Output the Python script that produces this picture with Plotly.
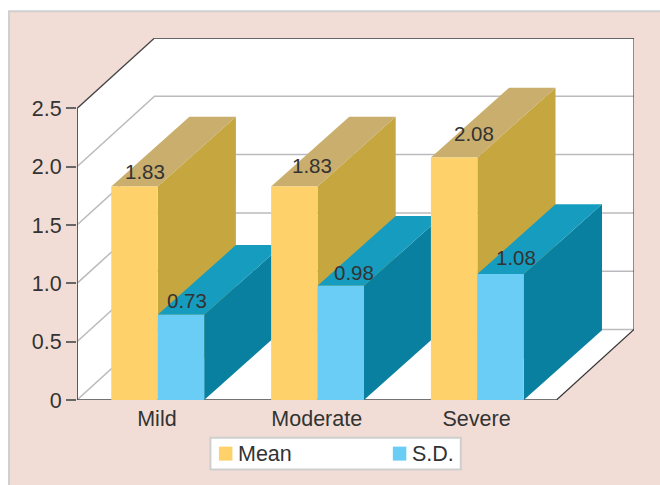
import plotly.graph_objects as go

# Severity groups and their summary statistics
categories = ["Mild", "Moderate", "Severe"]
mean_values = [1.83, 1.83, 2.08]
sd_values = [0.73, 0.98, 1.08]
y_ticks = [0, 0.5, 1.0, 1.5, 2.0, 2.5]
y_tick_labels = ["0", "0.5", "1.0", "1.5", "2.0", "2.5"]
legend_labels = ["Mean", "S.D."]

# Per-label nudges in pixels, relative to each bar's top centre
mean_label_shift = [(11, 15), (18, 21), (21, 24)]
sd_label_shift = [(7, 14), (14, 13), (16, 17)]

W, H = 660, 485
LEFT, RIGHT, TOP, BOTTOM = 77.0, 634.3, 37.7, 400.3
DEPTH_X = 0.485     # oblique depth of the box, in category units
DEPTH_Y = 0.604     # oblique depth of the box, in value units
SOLID_DX = 0.489    # oblique depth of the bars
SOLID_DY = 0.598
BAR = 0.2906
BAR_NUDGE = 0.005   # bars sit a hair right of the category centre
X_MIN, X_FRONT = -0.5, 2.5
Y_FRONT = y_ticks[-1]

PANEL = "#F1DDD5"
FRAME = "#CFCFCF"
GRID = "#BBBBBF"
INK = "#333333"
FONT = "Liberation Sans"
MEAN_FACES = dict(front="#FED16A", side="#C5A63F", top="#C9AE6E")
SD_FACES = dict(front="#69CDF6", side="#0A80A0", top="#169CBE")


def px_x(px):
    """Page pixel column to paper coordinate of the plot area."""
    return (px - LEFT) / (RIGHT - LEFT)


def px_y(py):
    """Page pixel row to paper coordinate of the plot area."""
    return (BOTTOM - py) / (BOTTOM - TOP)


fig = go.Figure()


def polygon(xs, ys, color):
    fig.add_trace(go.Scatter(
        x=xs + xs[:1], y=ys + ys[:1], mode="lines", fill="toself",
        fillcolor=color, line=dict(width=0, color=color),
        hoverinfo="skip", showlegend=False, xaxis="x", yaxis="y"))


def line(xs, ys, color, width):
    fig.add_trace(go.Scatter(
        x=xs, y=ys, mode="lines", line=dict(color=color, width=width),
        hoverinfo="skip", showlegend=False, xaxis="x", yaxis="y"))


# White walls and floor of the box
polygon([X_MIN, X_MIN, X_MIN + DEPTH_X, X_FRONT + DEPTH_X, X_FRONT + DEPTH_X, X_FRONT],
        [0, Y_FRONT, Y_FRONT + DEPTH_Y, Y_FRONT + DEPTH_Y, DEPTH_Y, 0], "#FFFFFF")

# Gridlines running along the left wall and the back wall
for tick in y_ticks[:-1]:
    line([X_MIN, X_MIN + DEPTH_X, X_FRONT + DEPTH_X],
         [tick, tick + DEPTH_Y, tick + DEPTH_Y], GRID, 1.5)

# Outline of the box
line([X_MIN, X_MIN], [0, Y_FRONT], "#5A5A5A", 2)
line([X_MIN, X_MIN + DEPTH_X], [Y_FRONT, Y_FRONT + DEPTH_Y], "#444444", 1.3)
line([X_MIN + DEPTH_X, X_FRONT + DEPTH_X], [Y_FRONT + DEPTH_Y] * 2, "#666666", 2)
line([X_FRONT + DEPTH_X] * 2, [Y_FRONT + DEPTH_Y, DEPTH_Y], "#444444", 1.2)
line([X_FRONT, X_FRONT + DEPTH_X], [0, DEPTH_Y], "#333333", 1.2)
line([X_MIN, X_FRONT], [0, 0], "#444444", 1.5)


def solid_faces(left, right, value, faces):
    polygon([right, right + SOLID_DX, right + SOLID_DX, right],
            [0, SOLID_DY, value + SOLID_DY, value], faces["side"])
    polygon([left, right, right + SOLID_DX, left + SOLID_DX],
            [value, value, value + SOLID_DY, value + SOLID_DY], faces["top"])


# Side and top faces, painted back to front
positions = list(range(len(categories)))
centres = [i + BAR_NUDGE for i in positions]
for c, mean, sd in zip(centres, mean_values, sd_values):
    solid_faces(c - BAR, c, mean, MEAN_FACES)
    solid_faces(c, c + BAR, sd, SD_FACES)

# Front faces sit on an overlaid axis pair so they cover the neighbouring sides
fig.add_trace(go.Bar(x=centres, y=mean_values, name=legend_labels[0],
                     marker=dict(color=MEAN_FACES["front"], line=dict(width=0)),
                     showlegend=False, xaxis="x2", yaxis="y2"))
fig.add_trace(go.Bar(x=centres, y=sd_values, name=legend_labels[1],
                     marker=dict(color=SD_FACES["front"], line=dict(width=0)),
                     showlegend=False, xaxis="x2", yaxis="y2"))

# Value labels
annotations = []
for i in positions:
    for value, centre, (dx, dy) in (
        (mean_values[i], i - BAR / 2, mean_label_shift[i]),
        (sd_values[i], i + BAR / 2, sd_label_shift[i]),
    ):
        annotations.append(dict(
            x=centre, y=value, xref="x", yref="y", text=f"{value:.2f}",
            showarrow=False, xshift=dx, yshift=dy,
            font=dict(family=FONT, size=20.5, color=INK)))

# Background panel and key box
shapes = [
    dict(type="rect", xref="paper", yref="paper", layer="below",
         x0=px_x(9), x1=px_x(W + 10), y0=px_y(H + 10), y1=px_y(11),
         fillcolor=PANEL, line=dict(color=FRAME, width=2)),
    dict(type="rect", xref="paper", yref="paper", layer="above",
         x0=px_x(210.5), x1=px_x(461), y0=px_y(470), y1=px_y(438),
         fillcolor="#FFFFFF", line=dict(color=FRAME, width=2)),
]
for label, color, swatch_x, text_x in zip(
    legend_labels, (MEAN_FACES["front"], SD_FACES["front"]), (219, 393), (238, 412)
):
    shapes.append(dict(type="rect", xref="paper", yref="paper", layer="above",
                       x0=px_x(swatch_x), x1=px_x(swatch_x + 13.5),
                       y0=px_y(461), y1=px_y(447),
                       fillcolor=color, line=dict(width=0)))
    annotations.append(dict(x=px_x(text_x), y=px_y(454.5), xref="paper", yref="paper",
                            text=label, showarrow=False, xanchor="left", yanchor="middle",
                            xshift=-2,
                            font=dict(family=FONT, size=21.5, color=INK)))

x_range = [X_MIN, X_FRONT + DEPTH_X]
y_range = [0, Y_FRONT + DEPTH_Y]

fig.update_layout(
    width=W, height=H,
    margin=dict(l=LEFT, r=W - RIGHT, t=TOP, b=H - BOTTOM, pad=0),
    paper_bgcolor="#FFFFFF", plot_bgcolor="rgba(0,0,0,0)",
    font=dict(family=FONT, size=21.5, color=INK),
    barmode="group", bargap=1 - 2 * BAR, bargroupgap=0,
    showlegend=False,
    xaxis=dict(range=x_range, tickmode="array",
               tickvals=positions, ticktext=categories, ticks="",
               ticklabelstandoff=3,
               showgrid=False, zeroline=False, showline=False, automargin=False),
    yaxis=dict(range=y_range, tickmode="array",
               tickvals=y_ticks, ticktext=y_tick_labels, ticks="outside",
               ticklen=10, tickwidth=1.5, tickcolor="#666666",
               showgrid=False, zeroline=False, showline=False, automargin=False),
    xaxis2=dict(range=x_range, overlaying="x", visible=False),
    yaxis2=dict(range=y_range, overlaying="y", visible=False),
    shapes=shapes,
    annotations=annotations,
)

fig.write_html("out.html")
